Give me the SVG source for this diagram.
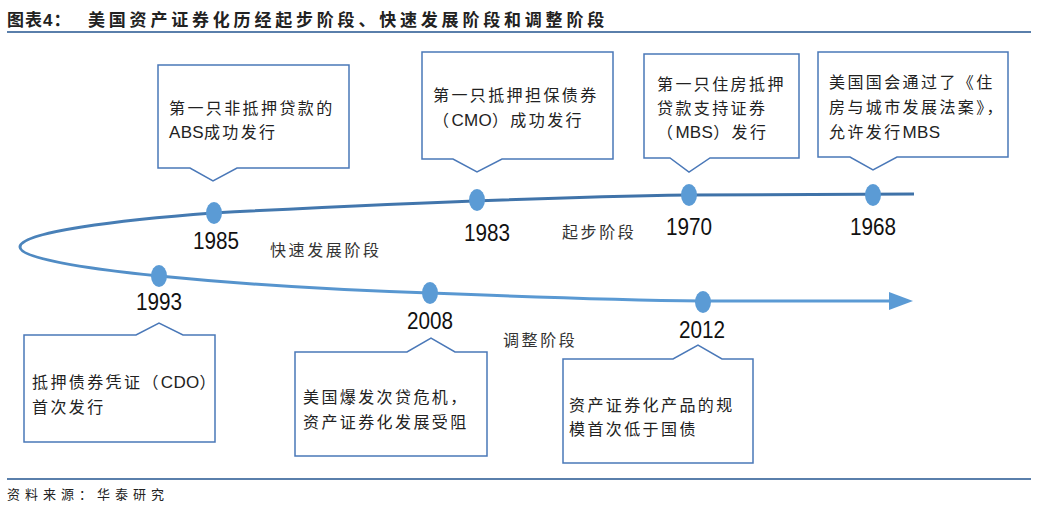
<svg xmlns="http://www.w3.org/2000/svg" width="1040" height="512" viewBox="0 0 1040 512">
<style>
.t{font-family:"Liberation Sans","Noto Sans CJK SC",sans-serif;fill:#222;}
.bx{font-size:16px;letter-spacing:2.4px;}
.lat{letter-spacing:0.3px;font-size:17px;}
.yr{font-size:23px;text-anchor:middle;fill:#111;}
.stg{font-size:16px;letter-spacing:2.6px;fill:#333;}
.box{fill:#fff;stroke:#4a78b8;stroke-width:1.5;}
.dot{fill:#5b9bd5;}
.rule{stroke:#5a7fab;stroke-width:2;}
</style>
<defs>
<linearGradient id="lg" gradientUnits="userSpaceOnUse" x1="0" y1="194" x2="0" y2="303">
<stop offset="0" stop-color="#3f72a8"/>
<stop offset="1" stop-color="#5b9bd5"/>
</linearGradient>
</defs>
<rect width="1040" height="512" fill="#fff"/>
<g id="title">
<text class="t" x="7" y="26" font-size="17" font-weight="bold" letter-spacing="1" fill="#111">图表4：<tspan x="88" letter-spacing="3.8">美国资产证券化历经起步阶段、快速发展阶段和调整阶段</tspan></text>
<line class="rule" x1="7" y1="32" x2="1031" y2="32"/>
</g>
<g id="connectors">
<path d="M914,194 L689,195 C560,197 400,203 213,213 C120,220 20,232 20,247 C20,258 80,268 159,276 C250,285 330,290 430,293 C530,297 620,300 703,301 L891,301" fill="none" stroke="url(#lg)" stroke-width="3"/>
<polygon points="889,292 913,301 889,310" fill="#5b9bd5"/>
</g>
<g id="markers">
<ellipse class="dot" cx="214" cy="213" rx="8" ry="11"/>
<ellipse class="dot" cx="477" cy="200" rx="8" ry="11"/>
<ellipse class="dot" cx="689" cy="195" rx="8" ry="11"/>
<ellipse class="dot" cx="873" cy="195" rx="8" ry="11"/>
<ellipse class="dot" cx="159" cy="276" rx="8" ry="11"/>
<ellipse class="dot" cx="430" cy="293" rx="8" ry="11"/>
<ellipse class="dot" cx="703" cy="302" rx="8" ry="11"/>
</g>
<g id="years">
<text class="t yr" x="216" y="249" textLength="46" lengthAdjust="spacingAndGlyphs">1985</text>
<text class="t yr" x="487" y="241" textLength="46" lengthAdjust="spacingAndGlyphs">1983</text>
<text class="t yr" x="689" y="235" textLength="46" lengthAdjust="spacingAndGlyphs">1970</text>
<text class="t yr" x="873" y="235" textLength="46" lengthAdjust="spacingAndGlyphs">1968</text>
<text class="t yr" x="159" y="310" textLength="46" lengthAdjust="spacingAndGlyphs">1993</text>
<text class="t yr" x="430" y="329" textLength="46" lengthAdjust="spacingAndGlyphs">2008</text>
<text class="t yr" x="702" y="338" textLength="46" lengthAdjust="spacingAndGlyphs">2012</text>
</g>
<g id="stages">
<text class="t stg" x="270" y="256">快速发展阶段</text>
<text class="t stg" x="562" y="238">起步阶段</text>
<text class="t stg" x="503" y="346">调整阶段</text>
</g>
<g id="node-1985">
<path class="box" d="M158,65 H349 V168 H237 L213,181 L190,168 H158 Z"/>
<text class="t bx" x="169" y="114">第一只非抵押贷款的</text>
<text class="t bx" x="169" y="138"><tspan class="lat">ABS</tspan>成功发行</text>
</g>
<g id="node-1983">
<path class="box" d="M422,52 H613 V159 H502 L477,172 L453,159 H422 Z"/>
<text class="t bx" x="433" y="101">第一只抵押担保债券</text>
<text class="t bx" x="433" y="126">（<tspan class="lat">CMO</tspan>）成功发行</text>
</g>
<g id="node-1970">
<path class="box" d="M644,54 H799 V158 H710 L689,172 L670,158 H644 Z"/>
<text class="t bx" x="657" y="90">第一只住房抵押</text>
<text class="t bx" x="657" y="114">贷款支持证券</text>
<text class="t bx" x="657" y="138">（<tspan class="lat">MBS</tspan>）发行</text>
</g>
<g id="node-1968">
<path class="box" d="M818,52 H1008 V157 H897 L873,170 L850,157 H818 Z"/>
<text class="t bx" x="829" y="88">美国国会通过了《住</text>
<text class="t bx" x="829" y="113">房与城市发展法案》，</text>
<text class="t bx" x="829" y="138">允许发行<tspan class="lat">MBS</tspan></text>
</g>
<g id="node-1993">
<path class="box" d="M24,335 H136 L159,323 L183,335 H215 V442 H24 Z"/>
<text class="t bx" x="32" y="388">抵押债券凭证（<tspan class="lat">CDO</tspan>）</text>
<text class="t bx" x="32" y="413">首次发行</text>
</g>
<g id="node-2008">
<path class="box" d="M295,352 H407 L431,338 L455,352 H487 V456 H295 Z"/>
<text class="t bx" x="303" y="403">美国爆发次贷危机，</text>
<text class="t bx" x="303" y="428">资产证券化发展受阻</text>
</g>
<g id="node-2012">
<path class="box" d="M563,359 H673 L698,345 L722,359 H753 V463 H563 Z"/>
<text class="t bx" x="569" y="411">资产证券化产品的规</text>
<text class="t bx" x="569" y="435">模首次低于国债</text>
</g>
<g id="footer">
<line class="rule" x1="7" y1="479" x2="1031" y2="479"/>
<text class="t" x="7" y="499" font-size="13" letter-spacing="5" fill="#8a8a8a">资料来源：华泰研究</text>
</g>
</svg>
